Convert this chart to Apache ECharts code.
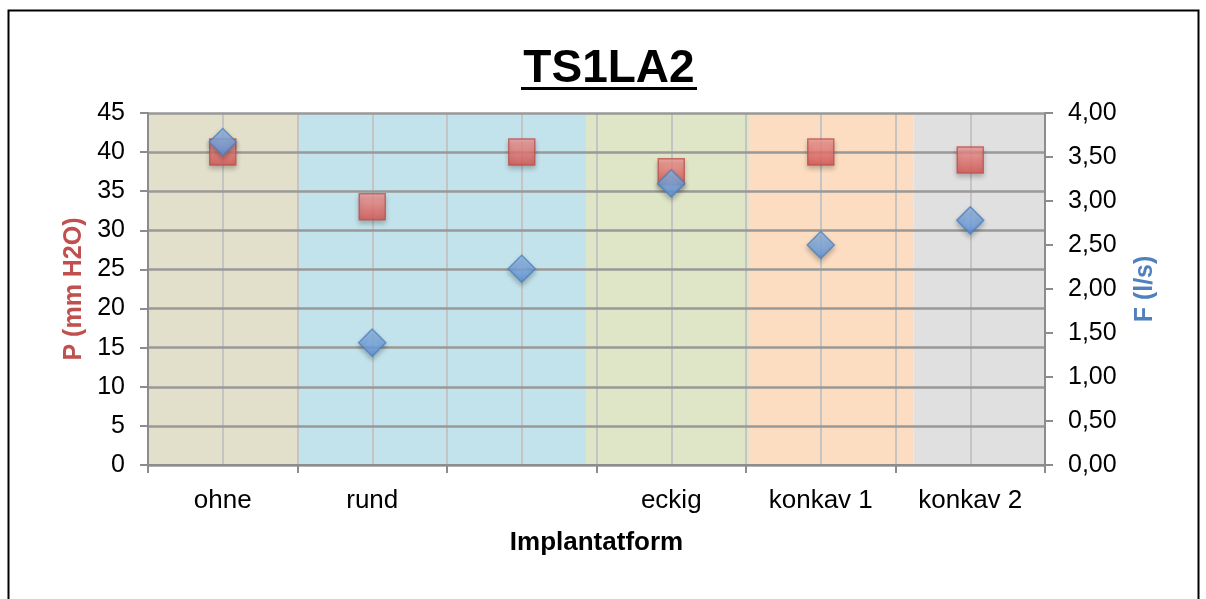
<!DOCTYPE html>
<html>
<head>
<meta charset="utf-8">
<script src="https://cdn.jsdelivr.net/npm/echarts@6/dist/echarts.min.js"></script>
<style>
  html, body { margin: 0; padding: 0; background: #fff; }
  #main { width: 1206px; height: 599px; }
</style>
</head>
<body>
<div id="main"></div>
<script>
// Kategorien (die dritte hat keine Beschriftung)
const categories = ['ohne', 'rund', '', 'eckig', 'konkav 1', 'konkav 2'];
// P (mm H2O), linke Achse
const pValues = [40, 33, 40, 37.5, 40, 39];
// F (l/s), rechte Achse
const fValues = [3.67, 1.39, 2.23, 3.2, 2.5, 2.78];

const chart = echarts.init(document.getElementById('main'));

const font = 'Liberation Sans, Arial, sans-serif';

const option = {
  animation: false,
  textStyle: { fontFamily: font },
  graphic: [
    {
      type: 'rect',
      shape: { x: 8.5, y: 10.5, width: 1190, height: 620 },
      style: { fill: 'none', stroke: '#000', lineWidth: 2 },
      silent: true
    },
    {
      type: 'text',
      x: 609,
      y: 46,
      style: { text: 'TS1LA2', font: 'bold 46px ' + font, fill: '#000', align: 'center' }
    },
    {
      type: 'rect',
      shape: { x: 521, y: 87, width: 176, height: 3 },
      style: { fill: '#000' },
      silent: true
    }
  ],
  grid: { left: 148, right: 161, top: 113, bottom: 134 },
  xAxis: [
    {
      type: 'category',
      data: categories,
      boundaryGap: true,
      z: 3,
      name: 'Implantatform',
      nameLocation: 'middle',
      nameGap: 65,
      nameTextStyle: { fontSize: 26, fontWeight: 'bold', color: '#000' },
      axisLine: { lineStyle: { color: '#8c8c8c', width: 2 } },
      axisTick: { show: true, length: 8, lineStyle: { color: '#8c8c8c', width: 2 } },
      axisLabel: { fontSize: 26, color: '#000', margin: 23 },
      splitLine: { show: false }
    },
    {
      type: 'value',
      min: 0,
      max: 6,
      interval: 0.5,
      show: true,
      z: 2,
      axisLine: { show: false },
      axisTick: { show: false },
      axisLabel: { show: false },
      splitLine: { show: true, lineStyle: { color: '#c4c4c4', width: 2 } }
    }
  ],
  yAxis: [
    {
      type: 'value',
      min: 0,
      max: 45,
      interval: 5,
      z: 3,
      name: 'P (mm H2O)',
      nameLocation: 'middle',
      nameGap: 61,
      nameRotate: 90,
      nameTextStyle: { fontSize: 25, fontWeight: 'bold', color: '#c0504d' },
      axisLine: { show: true, lineStyle: { color: '#8c8c8c', width: 2 } },
      axisTick: { show: true, length: 8, lineStyle: { color: '#8c8c8c', width: 2 } },
      axisLabel: { fontSize: 25, color: '#000', margin: 23 },
      splitLine: { show: true, lineStyle: { color: '#999', width: 2.5 } }
    },
    {
      type: 'value',
      min: 0,
      max: 4,
      interval: 0.5,
      z: 3,
      name: 'F (l/s)',
      nameLocation: 'middle',
      nameGap: 88,
      nameMoveOverlap: false,
      nameRotate: 90,
      nameTextStyle: { fontSize: 25, fontWeight: 'bold', color: '#4f81bd' },
      axisLine: { show: true, lineStyle: { color: '#8c8c8c', width: 2 } },
      axisTick: { show: true, length: 8, lineStyle: { color: '#8c8c8c', width: 2 } },
      axisLabel: {
        fontSize: 25, color: '#000', margin: 23,
        formatter: v => v.toFixed(2).replace('.', ',')
      },
      splitLine: { show: false }
    }
  ],
  series: [
    {
      // Hintergrundfelder
      type: 'line',
      xAxisIndex: 1,
      yAxisIndex: 0,
      data: [],
      silent: true,
      z: -1,
      markArea: {
        silent: true,
        itemStyle: { opacity: 1 },
        data: [
          [{ xAxis: 0, itemStyle: { color: '#e2dfcb' } }, { xAxis: 1 }],
          [{ xAxis: 1, itemStyle: { color: '#c3e3ec' } }, { xAxis: 2.93 }],
          [{ xAxis: 2.93, itemStyle: { color: '#dfe6c8' } }, { xAxis: 4.02 }],
          [{ xAxis: 4.02, itemStyle: { color: '#fcddc1' } }, { xAxis: 5.12 }],
          [{ xAxis: 5.12, itemStyle: { color: '#e0e0e0' } }, { xAxis: 6 }]
        ]
      }
    },
    {
      name: 'P',
      type: 'scatter',
      xAxisIndex: 0,
      yAxisIndex: 0,
      data: pValues,
      symbol: 'rect',
      symbolSize: 26,
      z: 5,
      itemStyle: {
        color: new echarts.graphic.LinearGradient(0, 0, 0, 1, [
          { offset: 0, color: '#f9a09d' },
          { offset: 1, color: '#d9534f' }
        ]),
        borderColor: '#c0504d',
        borderWidth: 1.5,
        shadowBlur: 5,
        shadowOffsetY: 3,
        shadowColor: 'rgba(0,0,0,0.3)'
      }
    },
    {
      name: 'F',
      type: 'scatter',
      xAxisIndex: 0,
      yAxisIndex: 1,
      data: fValues,
      symbol: 'diamond',
      symbolSize: 27,
      z: 6,
      itemStyle: {
        color: new echarts.graphic.LinearGradient(0, 0, 0, 1, [
          { offset: 0, color: '#9cc2f0' },
          { offset: 1, color: '#5b92da' }
        ]),
        borderColor: '#4f81bd',
        borderWidth: 1.5,
        shadowBlur: 5,
        shadowOffsetY: 3,
        shadowColor: 'rgba(0,0,0,0.3)'
      }
    }
  ]
};

chart.setOption(option);
</script>
</body>
</html>
